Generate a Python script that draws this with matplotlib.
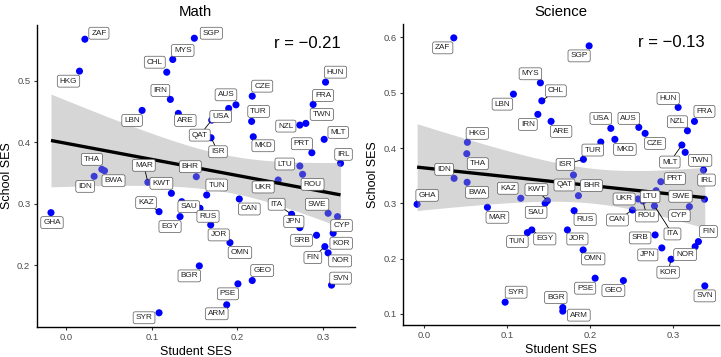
import numpy as np
import matplotlib
matplotlib.use("Agg")
import matplotlib.pyplot as plt

plt.rcParams['font.family'] = ['Liberation Sans', 'DejaVu Sans']

# ---- data: Math panel ----
math_countries = ['ZAF', 'HKG', 'SGP', 'MYS', 'CHL', 'IRN', 'LBN', 'ARE', 'AUS', 'USA',
                  'QAT', 'ISR', 'CZE', 'TUR', 'MKD', 'HUN', 'FRA', 'TWN', 'NZL', 'MLT',
                  'PRT', 'IRL', 'LTU', 'THA', 'BWA', 'IDN', 'MAR', 'KWT', 'BHR', 'TUN',
                  'UKR', 'ROU', 'KAZ', 'SAU', 'RUS', 'EGY', 'CAN', 'ITA', 'SWE', 'JPN',
                  'CYP', 'GHA', 'JOR', 'OMN', 'SRB', 'KOR', 'FIN', 'NOR', 'BGR', 'GEO',
                  'PSE', 'SVN', 'ARM', 'SYR']
math_student = [0.0218, 0.0155, 0.1496, 0.1244, 0.1174, 0.1216, 0.0886, 0.1309, 0.1982, 0.1897,
                0.1699, 0.1691, 0.2172, 0.2165, 0.2184, 0.3028, 0.2883, 0.2798, 0.2728, 0.3012,
                0.2868, 0.3203, 0.2728, 0.0416, 0.0447, 0.0326, 0.0953, 0.1228, 0.1519, 0.1640,
                0.2475, 0.2760, 0.1084, 0.1349, 0.1562, 0.1329, 0.2021, 0.2632, 0.3058, 0.2728,
                0.3168, -0.0178, 0.1687, 0.1912, 0.2923, 0.3117, 0.3020, 0.3058, 0.1554, 0.2172,
                0.2005, 0.3098, 0.1874, 0.1084]
math_school = [0.5678, 0.5158, 0.5694, 0.5348, 0.5141, 0.4698, 0.4519, 0.4470, 0.4610, 0.4551,
               0.4361, 0.4074, 0.4751, 0.4340, 0.4090, 0.4979, 0.4616, 0.4308, 0.4280, 0.4048,
               0.3830, 0.3658, 0.3614, 0.3560, 0.3537, 0.3446, 0.3349, 0.3170, 0.3440, 0.3142,
               0.3386, 0.3479, 0.2871, 0.3033, 0.2926, 0.2790, 0.3077, 0.2829, 0.2845, 0.2611,
               0.2790, 0.2855, 0.2655, 0.2367, 0.2487, 0.2520, 0.2302, 0.2200, 0.1988, 0.1750,
               0.1696, 0.1675, 0.1355, 0.1225]

# ---- data: Science panel ----
sci_countries = ['ZAF', 'SGP', 'MYS', 'CHL', 'LBN', 'IRN', 'ARE', 'HUN', 'FRA', 'NZL',
                 'MLT', 'TWN', 'IRL', 'USA', 'MKD', 'AUS', 'CZE', 'TUR', 'ISR', 'HKG',
                 'THA', 'IDN', 'BWA', 'GHA', 'MAR', 'KAZ', 'KWT', 'SAU', 'QAT', 'BHR',
                 'RUS', 'TUN', 'EGY', 'JOR', 'OMN', 'SYR', 'BGR', 'ARM', 'PSE', 'GEO',
                 'CAN', 'PRT', 'SWE', 'CYP', 'SRB', 'JPN', 'KOR', 'NOR', 'FIN', 'SVN',
                 'ROU', 'ITA', 'LTU', 'UKR']
sci_student = [0.0355, 0.1989, 0.1401, 0.1418, 0.1075, 0.1370, 0.1530, 0.3064, 0.3261, 0.3176,
               0.3109, 0.3149, 0.3370, 0.2251, 0.2300, 0.2589, 0.2665, 0.2130, 0.1920, 0.0519,
               0.0512, 0.0359, 0.0516, -0.0088, 0.0761, 0.1164, 0.1486, 0.1458, 0.1800, 0.1860,
               0.1808, 0.1244, 0.1297, 0.1727, 0.1917, 0.0975, 0.1671, 0.1671, 0.2062, 0.2403,
               0.2512, 0.2855, 0.3382, 0.3200, 0.2786, 0.2867, 0.2979, 0.3269, 0.3309, 0.3386,
               0.2638, 0.2778, 0.2798, 0.2581]
sci_school = [0.5993, 0.5848, 0.5180, 0.4854, 0.4975, 0.4609, 0.4482, 0.4735, 0.4482, 0.4312,
              0.4054, 0.3922, 0.3602, 0.4356, 0.4157, 0.4374, 0.4265, 0.4108, 0.3795, 0.4103,
              0.3897, 0.3452, 0.3380, 0.2982, 0.2928, 0.3091, 0.3047, 0.3000, 0.3512, 0.3138,
              0.2867, 0.2469, 0.2518, 0.2518, 0.2156, 0.1211, 0.1114, 0.1049, 0.1645, 0.1602,
              0.2879, 0.3391, 0.3073, 0.2939, 0.2428, 0.2193, 0.1988, 0.2216, 0.2307, 0.1506,
              0.3042, 0.2952, 0.3228, 0.3078]

panel_titles = ['Math', 'Science']
r_labels = ['r = \u22120.21', 'r = \u22120.13']

# label placement (pixel offsets from point, x right / y down), set by hand like ggrepel did
math_offsets = {
    'ZAF': (14, -6), 'HKG': (-11, 10), 'SGP': (17, -5), 'MYS': (10, -9), 'CHL': (-12, -10),
    'IRN': (-10, -9), 'LBN': (-10, 10), 'ARE': (7, 7), 'AUS': (-10, -10), 'USA': (-8, 8),
    'QAT': (-12, 15), 'ISR': (7, 14), 'CZE': (10, -10), 'TUR': (7, -10), 'MKD': (10, 9),
    'HUN': (10, -10), 'FRA': (10, -9), 'TWN': (16, -9), 'NZL': (-14, 1), 'MLT': (14, -7),
    'PRT': (-10, -9), 'IRL': (3, -9), 'LTU': (-15, -2), 'THA': (-10, -10), 'BWA': (9, 10),
    'IDN': (-9, 10), 'MAR': (-4, -17), 'KWT': (-10, -10), 'BHR': (-6, -10), 'TUN': (10, -10),
    'UKR': (-15, 7), 'ROU': (10, 10), 'KAZ': (-13, -9), 'SAU': (7, 5), 'RUS': (8, 8),
    'EGY': (-10, 10), 'CAN': (10, 10), 'ITA': (-15, -10), 'SWE': (-11, -9), 'JPN': (-6, -6),
    'CYP': (4, 9), 'GHA': (1, 10), 'JOR': (8, 10), 'OMN': (10, 10), 'SRB': (-15, 5),
    'KOR': (8, 10), 'FIN': (-12, 11), 'NOR': (12, 8), 'BGR': (-10, 10), 'GEO': (10, -10),
    'PSE': (-10, 10), 'SVN': (9, -7), 'ARM': (-10, 9), 'SYR': (-15, 5)}
math_segments = ['QAT', 'ISR', 'MAR', 'KAZ', 'ITA', 'FIN']

sci_offsets = {
    'ZAF': (-11, 10), 'SGP': (-10, 10), 'MYS': (-10, -9), 'CHL': (14, -10), 'LBN': (-11, 10),
    'IRN': (-10, 10), 'ARE': (10, 10), 'HUN': (-10, -9), 'FRA': (10, -10), 'NZL': (-10, -9),
    'MLT': (-12, 17), 'TWN': (15, 8), 'IRL': (3, 10), 'USA': (-10, -10), 'MKD': (10, 10),
    'AUS': (-10, -9), 'CZE': (10, 10), 'TUR': (-8, 8), 'ISR': (-18, 5), 'HKG': (10, -9),
    'THA': (11, 10), 'IDN': (-10, -9), 'BWA': (10, 10), 'GHA': (10, -9), 'MAR': (10, 10),
    'KAZ': (-13, -10), 'KWT': (-11, -11), 'SAU': (-9, 9), 'QAT': (-9, 10), 'BHR': (13, -10),
    'RUS': (11, 9), 'TUN': (-10, 9), 'EGY': (13, 9), 'JOR': (10, 9), 'OMN': (10, 9),
    'SYR': (11, -10), 'BGR': (-7, -10), 'ARM': (16, 4), 'PSE': (-10, 10), 'GEO': (-10, 10),
    'CAN': (-15, 10), 'PRT': (14, -3), 'SWE': (-24, -3), 'CYP': (-10, 9), 'SRB': (-15, 3),
    'JPN': (-14, 7), 'KOR': (-3, 13), 'NOR': (-10, 8), 'FIN': (10, -10), 'SVN': (0, 10),
    'ROU': (4, 15), 'ITA': (18, 28), 'LTU': (-6, 6), 'UKR': (-14, 0)}
sci_segments = ['CHL', 'MLT', 'ISR', 'KWT', 'EGY', 'CAN', 'ROU', 'ITA', 'KOR']

panels = [
    (math_countries, math_student, math_school, math_offsets, math_segments,
     [0.0, 0.1, 0.2, 0.3], [0.2, 0.3, 0.4, 0.5]),
    (sci_countries, sci_student, sci_school, sci_offsets, sci_segments,
     [0.0, 0.1, 0.2, 0.3], [0.1, 0.2, 0.3, 0.4, 0.5, 0.6]),
]

W, H = 721, 357
fig = plt.figure(figsize=(W / 100, H / 100), dpi=100)
ax_boxes = [(36.5, 24.5, 355.0, 326.5), (402.7, 24.2, 719.2, 324.8)]

for i, (names, xs, ys, offs, segs, xt, yt) in enumerate(panels):
    l, t, r, b = ax_boxes[i]
    ax = fig.add_axes([l / W, 1 - b / H, (r - l) / W, (b - t) / H])
    x = np.array(xs)
    y = np.array(ys)

    ax.scatter(x, y, s=26, color='#0000FF', edgecolors='none', zorder=2)

    # linear fit with 95% confidence band
    n = len(x)
    b1, b0 = np.polyfit(x, y, 1)
    resid = y - (b0 + b1 * x)
    s = np.sqrt(np.sum(resid ** 2) / (n - 2))
    sxx = np.sum((x - x.mean()) ** 2)
    gx = np.linspace(x.min(), x.max(), 80)
    gy = b0 + b1 * gx
    se = s * np.sqrt(1 / n + (gx - x.mean()) ** 2 / sxx)
    tq = 2.0066
    ax.fill_between(gx, gy - tq * se, gy + tq * se, color='#999999', alpha=0.4,
                    linewidth=0, zorder=3)
    ax.plot(gx, gy, color='black', lw=2.4, zorder=4, solid_capstyle='butt')

    for name, px, py in zip(names, xs, ys):
        dx, dy = offs[name]
        arrow = None
        if name in segs:
            arrow = dict(arrowstyle='-', color='black', lw=0.6, shrinkA=0, shrinkB=2)
        ax.annotate(name, (px, py), xytext=(dx, -dy), textcoords='offset pixels',
                    ha='center', va='center', fontsize=5.9, color='#222222', zorder=5,
                    bbox=dict(boxstyle='round,pad=0.3,rounding_size=0.25', fc='white',
                              ec='#555555', lw=0.5),
                    arrowprops=arrow)

    ax.margins(0.05)
    ax.set_xticks(xt)
    ax.set_yticks(yt)
    ax.set_xticklabels([f'{v:.1f}' for v in xt])
    ax.set_yticklabels([f'{v:.1f}' for v in yt])
    for side in ['top', 'right']:
        ax.spines[side].set_visible(False)
    for side in ['left', 'bottom']:
        ax.spines[side].set_linewidth(1.0)
    ax.tick_params(axis='both', length=2.5, width=0.8, color='#333333',
                   labelsize=6.8, labelcolor='#4D4D4D', pad=2)
    ax.set_xlabel('Student SES', fontsize=9, labelpad=3)
    ax.set_ylabel('School SES', fontsize=9, labelpad=3)
    ax.set_title(panel_titles[i], fontsize=10.7, pad=6)
    ax.text(0.85, 0.938, r_labels[i], transform=ax.transAxes, ha='center', va='center',
            fontsize=12)

fig.savefig('out.png', dpi=100)
